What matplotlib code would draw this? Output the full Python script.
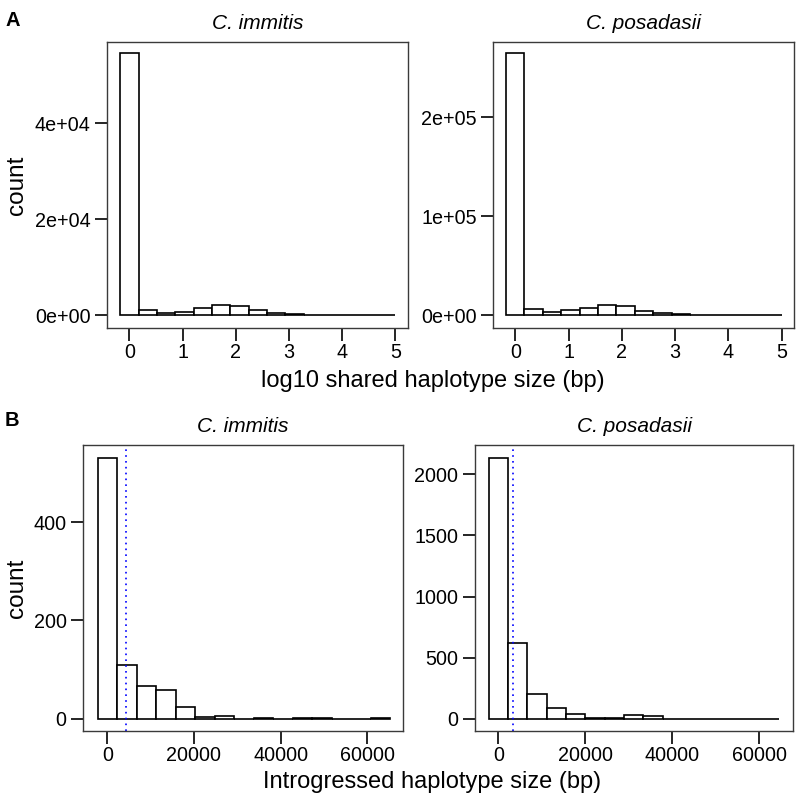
import numpy as np
import matplotlib
matplotlib.use("Agg")
import matplotlib.pyplot as plt

plt.rcParams['font.family'] = ['Liberation Sans', 'DejaVu Sans']

# ---- data ----
species = ["C. immitis", "C. posadasii"]

# Panel A: log10 shared haplotype size (bp), 15 bins
a_bin_start = -0.1725
a_bin_width = 0.345
a_immitis = [54600, 1100, 560, 625, 1600, 2080, 1875, 1100, 480, 270, 100, 60, 50, 80, 20]
a_posadasii = [264600, 6060, 3330, 4750, 7370, 10100, 9090, 4340, 2020, 1010, 500, 300, 150, 100, 50]
a_xticks = [0, 1, 2, 3, 4, 5]
a_yticks_imm = [0, 20000, 40000]
a_yticklabels_imm = ["0e+00", "2e+04", "4e+04"]
a_yticks_pos = [0, 100000, 200000]
a_yticklabels_pos = ["0e+00", "1e+05", "2e+05"]

# Panel B: introgressed haplotype size (bp), 15 bins
b_imm_bin_start = -2250
b_imm_bin_width = 4500
b_pos_bin_start = -2225
b_pos_bin_width = 4450
b_immitis = [531, 109, 67, 58, 24, 3, 5, 0, 2, 0, 2, 2, 0, 0, 1]
b_posadasii = [2136, 622, 202, 87, 38, 8, 8, 30, 22, 0, 0, 0, 0, 0, 0]
b_imm_cutoff = 4245
b_pos_cutoff = 3450
b_xticks = [0, 20000, 40000, 60000]
b_yticks_imm = [0, 200, 400]
b_yticks_pos = [0, 500, 1000, 1500, 2000]

W, H = 800, 801
fig = plt.figure(figsize=(W / 100, H / 100), dpi=100)


def ax_px(x0, x1, y0, y1):
    return fig.add_axes([x0 / W, 1 - y1 / H, (x1 - x0) / W, (y1 - y0) / H])


def style(ax, title):
    for s in ax.spines.values():
        s.set_color('#3a3a3a')
        s.set_linewidth(1.0)
    ax.tick_params(direction='out', length=9, width=1.2, labelsize=14.2,
                   color='black', pad=3)
    ax.tick_params(axis='x', pad=2)
    ax.set_title(title, style='italic', fontsize=15, pad=9)


def hist(ax, start, width, counts):
    counts = np.asarray(counts, dtype=float)
    edges = start + width * np.arange(len(counts) + 1)
    ax.bar(edges[:-1], counts, width=width, align='edge', facecolor='white',
           edgecolor='black', linewidth=1.2)


# Panel A
axes_a = [ax_px(107.3, 408.3, 41.7, 328), ax_px(493.3, 794, 41.7, 328)]
a_data = [a_immitis, a_posadasii]
a_lims = [(-0.414, 5.244), (-0.413, 5.231)]
a_ylims = [(-2646, 57000), (-13100, 276400)]
a_yt = [(a_yticks_imm, a_yticklabels_imm), (a_yticks_pos, a_yticklabels_pos)]
for ax, d, xl, yl, yt, sp in zip(axes_a, a_data, a_lims, a_ylims, a_yt, species):
    hist(ax, a_bin_start, a_bin_width, d)
    ax.set_xlim(*xl)
    ax.set_ylim(*yl)
    ax.set_xticks(a_xticks)
    ax.set_yticks(yt[0])
    ax.set_yticklabels(yt[1])
    style(ax, sp)

# Panel B
axes_b = [ax_px(83.3, 402.7, 445, 731), ax_px(475, 793.3, 445, 731)]
b_data = [(b_imm_bin_start, b_imm_bin_width, b_immitis, b_imm_cutoff),
          (b_pos_bin_start, b_pos_bin_width, b_posadasii, b_pos_cutoff)]
b_lims = [(-5536, 68143), (-5362, 67894)]
b_ylims = [(-25, 557), (-100.6, 2240)]
b_yt = [b_yticks_imm, b_yticks_pos]
for ax, (st, w, d, cut), xl, yl, yt, sp in zip(axes_b, b_data, b_lims, b_ylims, b_yt, species):
    hist(ax, st, w, d)
    ax.axvline(cut, color='blue', linestyle=(0, (1, 2.5)), linewidth=1.2)
    ax.set_xlim(*xl)
    ax.set_ylim(*yl)
    ax.set_xticks(b_xticks)
    ax.set_yticks(yt)
    style(ax, sp)

# Labels
fig.text(17 / W, 1 - 185 / H, "count", rotation=90, fontsize=17.5, ha='center', va='center')
fig.text(17 / W, 1 - 588 / H, "count", rotation=90, fontsize=17.5, ha='center', va='center')
fig.text(433 / W, 1 - 381 / H, "log10 shared haplotype size (bp)", fontsize=17, ha='center', va='center')
fig.text(432 / W, 1 - 782 / H, "Introgressed haplotype size (bp)", fontsize=17, ha='center', va='center')
fig.text(5 / W, 1 - 20 / H, "A", fontsize=14.5, fontweight='bold', ha='left', va='center')
fig.text(5 / W, 1 - 421 / H, "B", fontsize=14.5, fontweight='bold', ha='left', va='center')

fig.savefig("out.png", dpi=100)
